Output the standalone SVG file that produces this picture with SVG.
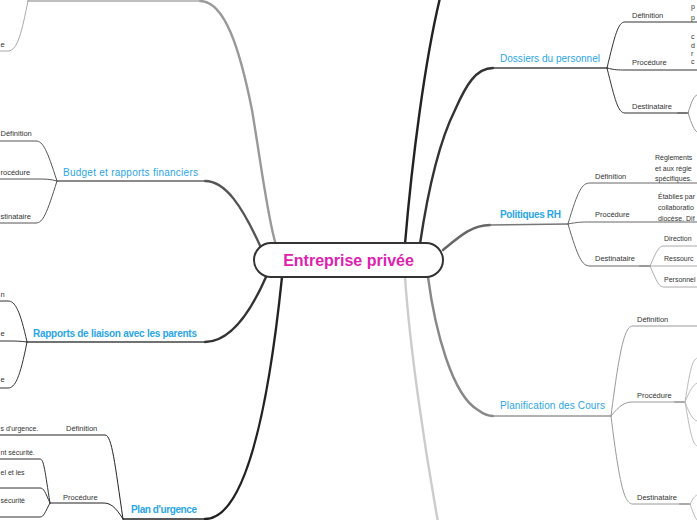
<svg xmlns="http://www.w3.org/2000/svg" width="697" height="520" viewBox="0 0 697 520">
<style>
.t{font-family:"Liberation Sans",Arial,sans-serif;font-size:10px;fill:#2aa6e6}
.b{font-weight:bold}
.s{font-family:"Liberation Sans",Arial,sans-serif;font-size:7.5px;fill:#333}
.l{font-family:"Liberation Sans",Arial,sans-serif;font-size:7px;fill:#333}
path{fill:none;stroke-linecap:round}
.m{stroke-width:2.4}
.h{stroke-width:1.4}
.k{stroke-width:1}
</style>
<rect width="697" height="520" fill="#fff"/>
<g id="connectors">
<path class="m" stroke="#999" d="M200 1 C225 1 240 50 252 110 C262 170 268 220 276 245"/>
<path class="h" stroke="#aaa" d="M28 1 L200 1"/>
<path class="k" stroke="#aaa" d="M28 1 C22 30 18 51 8 51 L0 51 M28 1 L31 -4"/>
<path class="m" stroke="#555" d="M205 181 C225 181 242 205 262 250"/>
<path class="h" stroke="#666" d="M57 181 L205 181"/>
<path class="k" stroke="#555" d="M57 181 C47 150 43 141 36 141 L0 141 M57 181 C50 179 45 179 36 179 L0 179 M57 181 C47 213 43 223 36 223 L0 223"/>
<path class="m" stroke="#333" d="M205 342 C228 342 248 318 266 277"/>
<path class="h" stroke="#444" d="M27 342 L205 342"/>
<path class="k" stroke="#333" d="M27 342 C20 310 15 301 8 301 L0 301 M27 342 C20 341 15 341 8 341 L0 341 M27 342 C20 378 15 388 8 388 L0 388"/>
<path class="m" stroke="#222" d="M205 519 C232 519 262 470 282 277"/>
<path class="h" stroke="#222" d="M123 519 L205 519"/>
<path class="k" stroke="#222" d="M123 519 C115 465 112 435 105 435 L0 435 M123 519 C115 506 110 503 103 503 L50 503"/>
<path class="k" stroke="#333" d="M50 503 C45 472 44 459 40 459 L0 459 M50 503 C45 492 44 488 40 488 L0 488 M50 503 C45 512 44 517 40 517 L0 517"/>
<path class="m" stroke="#222" d="M405 244 C412 160 425 60 440 -2"/>
<path class="m" stroke="#333" d="M420 244 C428 190 440 140 455 110 C466 85 476 68 493 68"/>
<path class="h" stroke="#444" d="M493 68 L607 68"/>
<path class="k" stroke="#333" d="M607 68 C615 35 618 22 625 22 L697 22 M607 68 C615 70 618 70 625 70 L697 70 M607 68 C615 100 618 113 625 113 L688 113"/>
<path stroke="#777" stroke-width="2" d="M678 113 L688 113"/>
<path class="k" stroke="#999" d="M688 113 C692 100 694 96 697 95 M688 113 C692 125 694 130 697 132"/>
<path class="m" stroke="#666" d="M443 250 C460 236 472 225 490 225"/>
<path class="h" stroke="#777" d="M490 225 L568 224"/>
<path class="k" stroke="#666" d="M568 224 C578 190 582 183 590 183 L697 183 M568 224 C578 222 582 222 590 222 L697 222 M568 224 C578 258 582 266 590 266 L650 266"/>
<path stroke="#999" stroke-width="2" d="M640 266 L650 266"/>
<path class="k" stroke="#aaa" d="M650 266 C657 250 659 246 664 246 L697 246 M650 266 L697 266 M650 266 C657 282 659 287 664 287 L697 287"/>
<path class="m" stroke="#888" d="M428 277 C435 330 452 395 478 410 Q486 416 493 416"/>
<path class="h" stroke="#999" d="M493 416 L611 416"/>
<path class="k" stroke="#999" d="M611 416 C620 345 625 326 633 326 L697 326 M611 416 C620 405 625 402 633 402 L685 402 M611 416 C620 490 625 504 633 504 L690 504"/>
<path stroke="#aaa" stroke-width="2" d="M675 402 L685 402 M680 504 L690 504"/>
<path class="k" stroke="#bbb" d="M685 402 C690 370 692 360 697 358 M685 402 C690 390 693 385 697 383 M685 402 C690 415 693 420 697 421 M685 402 C690 430 692 444 697 446 M690 504 C693 498 695 496 697 495 M690 504 C693 512 695 518 697 520"/>
<path class="m" stroke="#ccc" d="M405 277 C410 350 425 450 438 522"/>
</g>
<g id="center">
<rect x="254" y="243" width="189" height="34" rx="17" fill="#fff" stroke="#333" stroke-width="2"/>
<text x="348.5" y="266" text-anchor="middle" font-family="Liberation Sans, Arial, sans-serif" font-size="16" font-weight="bold" fill="#dd22b0">Entreprise privée</text>
</g>
<g id="topleft">
<text class="s" x="0.5" y="47">e</text>
</g>
<g id="budget">
<text class="t" x="63" y="176" textLength="135">Budget et rapports financiers</text>
<text class="s" x="0.5" y="136">Définition</text>
<text class="s" x="0.5" y="175">rocédure</text>
<text class="s" x="0.5" y="219">stinataire</text>
</g>
<g id="rapports">
<text class="t b" x="33" y="337" textLength="164">Rapports de liaison avec les parents</text>
<text class="s" x="0.5" y="297">n</text>
<text class="s" x="0.5" y="336">e</text>
<text class="s" x="0.5" y="382">e</text>
</g>
<g id="plan">
<text class="t b" x="131" y="513" textLength="66">Plan d'urgence</text>
<text class="s" x="66" y="431">Définition</text>
<text class="s" x="63" y="500">Procédure</text>
<text class="l" x="0.5" y="431">s d'urgence.</text>
<text class="l" x="0.5" y="455">nt sécurité.</text>
<text class="l" x="0.5" y="475">el et les</text>
<text class="l" x="0.5" y="503">sécurité</text>
</g>
<g id="dossiers">
<text class="t" x="500" y="62" textLength="100">Dossiers du personnel</text>
<text class="s" x="632" y="18">Définition</text>
<text class="s" x="632" y="65">Procédure</text>
<text class="s" x="632" y="109">Destinataire</text>
<text class="l" x="691" y="9">p</text>
<text class="l" x="691" y="20">p</text>
<text class="l" x="691" y="39">c</text>
<text class="l" x="691" y="48">d</text>
<text class="l" x="691" y="56">r</text>
<text class="l" x="691" y="64">c</text>
</g>
<g id="politiques">
<text class="t b" x="500" y="218" textLength="61">Politiques RH</text>
<text class="s" x="595" y="179">Définition</text>
<text class="s" x="595" y="217">Procédure</text>
<text class="s" x="595" y="261">Destinataire</text>
<text class="l" x="655" y="160">Règlements</text>
<text class="l" x="655" y="171">et aux règle</text>
<text class="l" x="655" y="181">spécifiques.</text>
<text class="l" x="658" y="199">Établies par</text>
<text class="l" x="658" y="210">collaboratio</text>
<text class="l" x="658" y="221">diocèse. Dif</text>
<text class="l" x="664" y="241">Direction</text>
<text class="l" x="664" y="261">Ressourc</text>
<text class="l" x="664" y="282">Personnel</text>
</g>
<g id="planification">
<text class="t" x="500" y="409" textLength="105">Planification des Cours</text>
<text class="s" x="637" y="322">Définition</text>
<text class="s" x="637" y="398">Procédure</text>
<text class="s" x="637" y="500">Destinataire</text>
</g>
</svg>
